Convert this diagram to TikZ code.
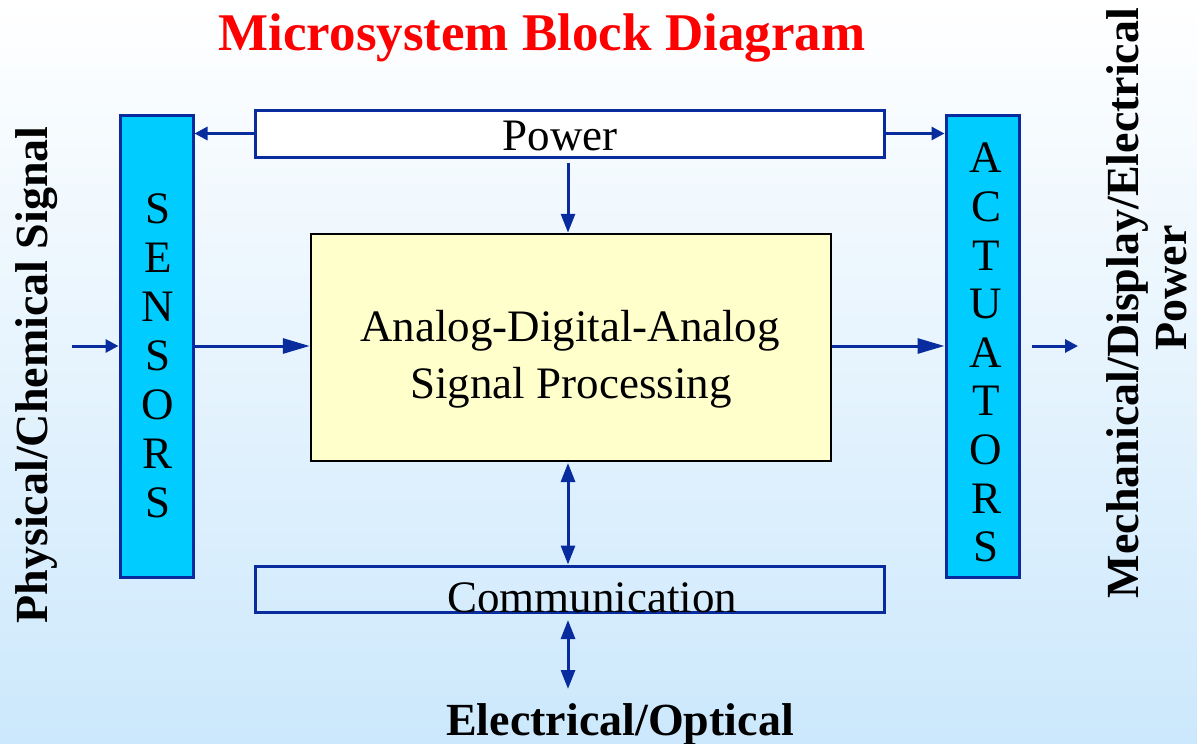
\documentclass[tikz,border=0pt]{standalone}
\usepackage{fontspec}
\setmainfont{Liberation Serif}
\usetikzlibrary{arrows.meta}
\definecolor{lineblue}{RGB}{8,44,158}
\definecolor{boxcyan}{RGB}{0,204,255}
\definecolor{procyellow}{RGB}{255,255,204}
\definecolor{bgbottom}{RGB}{204,232,252}
\tikzset{
  bluebox/.style={draw=lineblue, line width=3pt, inner sep=0pt},
  sidebox/.style={bluebox, fill=boxcyan, minimum width=73pt, minimum height=462pt},
  wirebox/.style={bluebox, minimum width=629pt, minimum height=47pt},
  procbox/.style={draw=black, line width=2.5pt, fill=procyellow, minimum width=520pt, minimum height=227pt, inner sep=0pt},
  conn/.style={draw=lineblue, line width=3pt},
  bigtip/.style={conn, -{Triangle[length=27pt,width=15pt]}},
  smalltip/.style={conn, -{Triangle[length=13pt,width=13pt]}},
  vtip/.style={conn, -{Triangle[length=19pt,width=14pt]}},
  vboth/.style={conn, {Triangle[length=19pt,width=14pt]}-{Triangle[length=19pt,width=14pt]}},
  txt/.style={inner sep=0pt, font=\fontsize{45}{49}\selectfont},
  boldtxt/.style={inner sep=0pt, font=\fontsize{46}{52}\selectfont\bfseries},
}
\begin{document}
\begin{tikzpicture}[x=1pt, y=-1pt]
\useasboundingbox (0,0) rectangle (1197,744);
\shade[top color=white, bottom color=bgbottom] (0,0) rectangle (1197,744);

% title
\node[inner sep=0pt, anchor=base, text=red, font=\fontsize{53}{58}\selectfont\bfseries] (title) at (542,50) {Microsystem Block Diagram};

% boxes
\node[sidebox] (sens) at (156.5,346) {};
\node[sidebox] (act) at (982.5,346) {};
\node[wirebox, fill=white] (power) at (569.5,133.5) {};
\node[wirebox, minimum height=46pt] (comm) at (569.5,589) {};
\node[procbox] (proc) at (571,347.5) {};

% box texts
\node[txt, align=center, anchor=north] (senstxt) at (158,193) {S\\E\\N\\S\\O\\R\\S};
\node[txt, align=center, anchor=north, font=\fontsize{45}{48.6}\selectfont] (acttxt) at (986,143) {A\\C\\T\\U\\A\\T\\O\\R\\S};
\node[txt, anchor=base] (powertxt) at (560,150) {Power};
\node[txt, anchor=base] (commtxt) at (592,612) {Communication};
\node[txt, anchor=base] (proctxt1) at (570,341) {Analog-Digital-Analog};
\node[txt, anchor=base] (proctxt2) at (571,398) {Signal Processing};

% outer labels
\node[boldtxt, anchor=base, rotate=90] (inlabel) at (47,375) {Physical/Chemical Signal};
\node[boldtxt, anchor=base, rotate=90] (outlabel1) at (1138,303) {Mechanical/Display/Electrical};
\node[boldtxt, anchor=base, rotate=90] (outlabel2) at (1186,288) {Power};
\node[boldtxt, anchor=base] (eolabel) at (620,735) {Electrical/Optical};

% free ends
\coordinate (inS) at (72,346);
\coordinate (outA) at (1032,346);
\coordinate (outB) at (1078,346);
\coordinate (pd) at (568,163);
\coordinate (pc) at (568,463);
\coordinate (cb1) at (568,620);
\coordinate (cb2) at (568,689);

% connectors
\draw[smalltip] (inS) -- (sens.west);
\draw[bigtip] (sens.east) -- (sens.east -| proc.west);
\draw[bigtip] (proc.east |- act.west) -- (act.west);
\draw[smalltip] (outA) -- (outB);
\draw[smalltip] (power.west) -- (power.west -| sens.east);
\draw[smalltip] (power.east) -- (power.east -| act.west);
\draw[vtip] (pd) -- (pd |- proc.north);
\draw[vboth] (pc) -- (pc |- comm.north);
\draw[vboth] (cb1) -- (cb2);
\end{tikzpicture}
\end{document}
